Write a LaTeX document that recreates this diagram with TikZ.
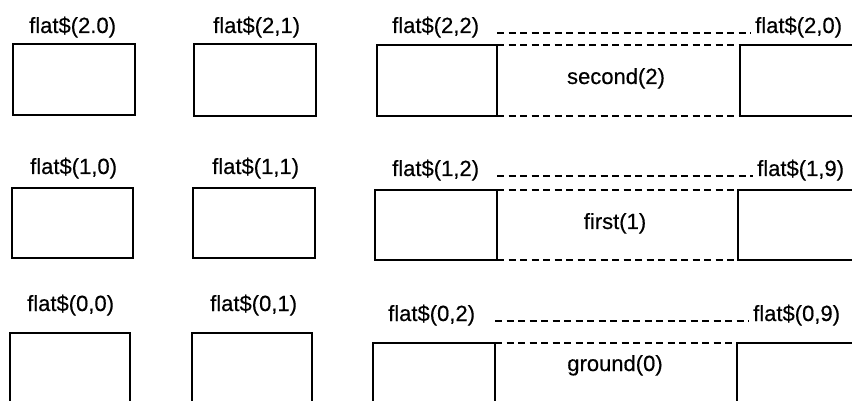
\documentclass[tikz,border=0pt]{standalone}
\usepackage{fontspec}
\setmainfont{Liberation Sans}[FakeBold=0.4]
\begin{document}
\begin{tikzpicture}[x=1pt,y=-1pt,
  box/.style={draw,line width=1.6pt,anchor=north west,inner sep=0pt,outer sep=0pt},
  lbl/.style={anchor=base west,inner sep=0pt,font=\fontsize{22}{24}\selectfont},
  mid/.style={anchor=base,inner sep=0pt,font=\fontsize{22}{24}\selectfont},
  dline/.style={line width=1.4pt,dash pattern=on 7pt off 4.5pt}]
\useasboundingbox (0,0) rectangle (852,401);
\clip (0,0) rectangle (852,401);
% row 2
\node[box,minimum width=122pt,minimum height=71pt] (b20) at (13,44) {};
\node[box,minimum width=122pt,minimum height=72pt] (b21) at (194,44) {};
\node[box,minimum width=120pt,minimum height=71pt] (b22) at (377,45) {};
\node[box,minimum width=140pt,minimum height=71pt] (b2r) at (740,45) {};
\node[lbl] (l20) at (29,33) {flat\$(2.0)};
\node[lbl] (l21) at (213,33) {flat\$(2,1)};
\node[lbl] (l22) at (392,33) {flat\$(2,2)};
\node[lbl] (l2r) at (755,33) {flat\$(2,0)};
\node[mid] (t2) at (616,84) {second(2)};
\draw[dline] (b22.north east |- l22.base) -- ([xshift=-4pt]l2r.base west);
\draw[dline] (b22.north east) -- (b2r.north west);
\draw[dline] (b22.south east) -- (b2r.south west);
% row 1
\node[box,minimum width=121pt,minimum height=70pt] (b10) at (12,188) {};
\node[box,minimum width=122pt,minimum height=70pt] (b11) at (193,188) {};
\node[box,minimum width=122pt,minimum height=70pt] (b12) at (375,190) {};
\node[box,minimum width=140pt,minimum height=70pt] (b1r) at (738,190) {};
\node[lbl] (l10) at (30,174) {flat\$(1,0)};
\node[lbl] (l11) at (212,174) {flat\$(1,1)};
\node[lbl] (l12) at (392,176) {flat\$(1,2)};
\node[lbl] (l1r) at (757,176) {flat\$(1,9)};
\node[mid] (t1) at (615,229) {first(1)};
\draw[dline] (b12.north east |- l12.base) -- ([xshift=-4pt]l1r.base west);
\draw[dline] (b12.north east) -- (b1r.north west);
\draw[dline] (b12.south east) -- (b1r.south west);
% row 0
\node[box,minimum width=120pt,minimum height=90pt] (b00) at (10,333) {};
\node[box,minimum width=120pt,minimum height=90pt] (b01) at (192,333) {};
\node[box,minimum width=122pt,minimum height=80pt] (b02) at (373,343) {};
\node[box,minimum width=140pt,minimum height=80pt] (b0r) at (737,343) {};
\node[lbl] (l00) at (27,311) {flat\$(0,0)};
\node[lbl] (l01) at (210,311) {flat\$(0,1)};
\node[lbl] (l02) at (388,321) {flat\$(0,2)};
\node[lbl] (l0r) at (753,321) {flat\$(0,9)};
\node[mid] (t0) at (615,371) {ground(0)};
\draw[dline] (b02.north east |- l02.base) -- ([xshift=-4pt]l0r.base west);
\draw[dline] (b02.north east) -- (b0r.north west);
\end{tikzpicture}
\end{document}
